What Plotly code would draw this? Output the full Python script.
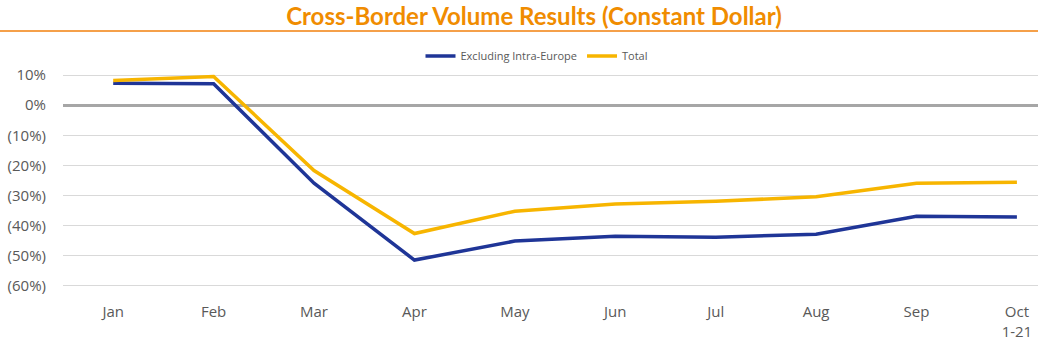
import plotly.graph_objects as go

months = ["Jan", "Feb", "Mar", "Apr", "May", "Jun", "Jul", "Aug", "Sep", "Oct<br>1-21"]
excl_intra_europe = [7.3, 7.1, -25.9, -51.4, -45.1, -43.5, -43.8, -42.8, -36.9, -37.1]
total = [8.2, 9.5, -21.7, -42.6, -35.2, -32.8, -31.9, -30.4, -25.9, -25.6]
tick_vals = [10, 0, -10, -20, -30, -40, -50, -60]
tick_text = ["10%", "0%", "(10%)", "(20%)", "(30%)", "(40%)", "(50%)", "(60%)"]

W, H = 1038, 344
L, R, T, B = 63, 0, 72, 55

fig = go.Figure()
fig.add_trace(go.Scatter(x=months, y=excl_intra_europe, mode="lines", name="Excluding Intra-Europe",
                         line=dict(color="#1F3597", width=3.5)))
fig.add_trace(go.Scatter(x=months, y=total, mode="lines", name="Total",
                         line=dict(color="#F7B500", width=3.5)))

fig.update_layout(
    width=W, height=H,
    margin=dict(l=L, r=R, t=T, b=B, autoexpand=False),
    paper_bgcolor="white", plot_bgcolor="white",
    font=dict(family="Open Sans", color="#595959"),
    title=dict(text="<b>Cross-Border Volume Results (Constant Dollar)</b>",
               font=dict(family="Lato", size=24, color="#F08C00"),
               x=534 / W, xref="container", xanchor="center",
               y=1 - 17 / H, yref="container", yanchor="middle", automargin=False),
    legend=dict(orientation="h", xref="container", x=537 / W, xanchor="center",
                yref="container", y=1 - 56 / H, yanchor="middle",
                font=dict(size=11, color="#595959"), itemwidth=30,
                traceorder="normal"),
    showlegend=True,
)
fig.update_xaxes(range=[-0.5, 9.21], showgrid=False, zeroline=False, showline=False,
                 ticks="", tickfont=dict(size=15, color="#595959"), ticklabelstandoff=12,
                 fixedrange=True, automargin=False)
fig.update_yaxes(range=[-61, 11], tickvals=tick_vals, ticktext=tick_text,
                 showgrid=True, gridcolor="#D9D9D9", gridwidth=1,
                 zeroline=True, zerolinecolor="#A6A6A6", zerolinewidth=2.5,
                 showline=False, ticks="", tickfont=dict(size=15, color="#595959"),
                 ticklabelstandoff=16, fixedrange=True, automargin=False)

plot_h = H - T - B
plot_w = W - L - R
fig.add_shape(type="line", xref="paper", yref="paper",
              x0=-L / plot_w, x1=1.0, y0=(H - B - 31) / plot_h, y1=(H - B - 31) / plot_h,
              line=dict(color="#F5A04A", width=2))

fig.write_html("out.html")
